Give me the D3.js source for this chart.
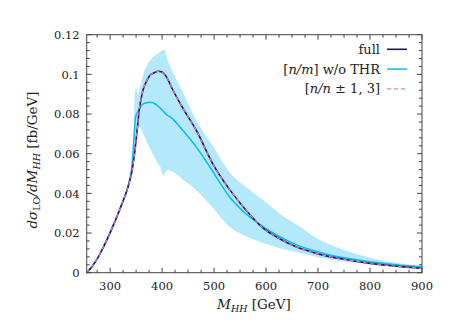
<!DOCTYPE html>
<html>
<head>
<meta charset="utf-8">
<script src="https://cdn.jsdelivr.net/npm/d3@7"></script>
<style>
  body { margin: 0; background: #fff; }
</style>
</head>
<body>
<div id="chart"></div>
<script>
// M_HH grid [GeV] and dsigma_LO/dM_HH [fb/GeV]
const massFull = [255, 265, 275, 285, 295, 305, 315, 325, 332, 338, 342, 345, 348, 352, 356, 363, 370, 376, 385, 392, 400, 410, 420, 440, 466, 500, 530, 560, 595, 620, 660, 700, 750, 800, 850, 900];
const fullValues = [0, 0.003, 0.0068, 0.0118, 0.0172, 0.0232, 0.0295, 0.0362, 0.0412, 0.0465, 0.051, 0.056, 0.062, 0.0717, 0.0818, 0.0918, 0.0965, 0.0993, 0.1008, 0.1016, 0.1012, 0.098, 0.0925, 0.083, 0.0717, 0.0537, 0.0419, 0.032, 0.0223, 0.018, 0.0128, 0.0095, 0.0068, 0.0047, 0.0033, 0.0022];
// [n/n±1,3] lies on top of the full result
const padeValues = [0, 0.003, 0.0068, 0.0118, 0.0172, 0.0232, 0.0295, 0.0362, 0.0412, 0.0465, 0.051, 0.056, 0.062, 0.0717, 0.0818, 0.0918, 0.0965, 0.0993, 0.1008, 0.1016, 0.1012, 0.098, 0.0925, 0.083, 0.0717, 0.0537, 0.0419, 0.032, 0.0223, 0.018, 0.0128, 0.0095, 0.0068, 0.0047, 0.0033, 0.0022];

const massNoThr = [255, 265, 275, 285, 295, 305, 315, 325, 332, 338, 342, 345, 349, 354, 360, 368, 378, 390, 401, 409, 416, 425, 440, 466, 492, 530, 560, 595, 620, 660, 700, 750, 800, 850, 900];
const noThrValues = [0, 0.003, 0.0068, 0.0118, 0.0172, 0.0232, 0.0295, 0.0362, 0.0412, 0.0475, 0.054, 0.064, 0.0784, 0.0815, 0.0843, 0.0856, 0.0859, 0.0845, 0.0818, 0.0795, 0.0785, 0.0763, 0.0717, 0.0633, 0.0533, 0.0382, 0.030, 0.0231, 0.019, 0.0139, 0.0105, 0.0075, 0.0055, 0.004, 0.003];

const massBand = [255, 265, 275, 285, 295, 305, 315, 325, 332, 338, 342, 345, 347, 350, 354, 357, 365, 372, 380, 390, 397, 402, 405, 410, 420, 440, 466, 500, 530, 560, 595, 625, 660, 700, 750, 800, 850, 900];
const bandLow = [0, 0.003, 0.0068, 0.0118, 0.0172, 0.0232, 0.0295, 0.0362, 0.0412, 0.0465, 0.051, 0.056, 0.060, 0.066, 0.0725, 0.0734, 0.069, 0.065, 0.061, 0.056, 0.053, 0.049, 0.050, 0.0516, 0.051, 0.047, 0.0416, 0.032, 0.023, 0.0185, 0.015, 0.0125, 0.0103, 0.0078, 0.0057, 0.0042, 0.003, 0.0022];
const bandHigh = [0, 0.003, 0.0068, 0.0118, 0.0172, 0.0232, 0.0295, 0.0362, 0.0412, 0.0475, 0.054, 0.064, 0.088, 0.093, 0.0895, 0.093, 0.101, 0.105, 0.108, 0.110, 0.1115, 0.1122, 0.1124, 0.1077, 0.1015, 0.091, 0.0767, 0.063, 0.0505, 0.0435, 0.0365, 0.030, 0.024, 0.017, 0.0115, 0.0075, 0.005, 0.0034];

const xTicks = [300, 400, 500, 600, 700, 800, 900];
const yTicks = [0, 0.02, 0.04, 0.06, 0.08, 0.1, 0.12];
const legendLabels = ['full', '[n/m] w/o THR', '[n/n ± 1, 3]'];

const serif = '"DejaVu Serif", "Liberation Serif", "Times New Roman", serif';
const width = 465, height = 332;
const margin = { top: 34.7, right: 43, bottom: 59.3, left: 86.7 };

const svg = d3.select('#chart').append('svg')
  .attr('width', width)
  .attr('height', height)
  .style('font-family', serif);

const x = d3.scaleLinear().domain([255, 900]).range([margin.left, width - margin.right]);
const y = d3.scaleLinear().domain([0, 0.12]).range([height - margin.bottom, margin.top]);

const zip = (xs, ys) => xs.map((m, i) => [m, ys[i]]);

// uncertainty band
const area = d3.area()
  .x(d => x(d[0]))
  .y0(d => y(d[1]))
  .y1(d => y(d[2]))
  .curve(d3.curveMonotoneX);
svg.append('path')
  .datum(massBand.map((m, i) => [m, bandLow[i], bandHigh[i]]))
  .attr('d', area)
  .attr('fill', '#b3e9fb');

const line = d3.line()
  .x(d => x(d[0]))
  .y(d => y(d[1]))
  .curve(d3.curveMonotoneX);

svg.append('path')
  .datum(zip(massNoThr, noThrValues))
  .attr('d', line)
  .attr('fill', 'none')
  .attr('stroke', '#0abaf5')
  .attr('stroke-width', 1.5);

svg.append('path')
  .datum(zip(massFull, fullValues))
  .attr('d', line)
  .attr('fill', 'none')
  .attr('stroke', '#1c1660')
  .attr('stroke-width', 1.6);

svg.append('path')
  .datum(zip(massFull, padeValues))
  .attr('d', line)
  .attr('fill', 'none')
  .attr('stroke', '#f07ac0')
  .attr('stroke-width', 1.1)
  .attr('stroke-dasharray', '4,3');

// frame with inward ticks on all four sides
const frame = svg.append('g').attr('stroke', '#444').attr('stroke-width', 1);
const x0 = x.range()[0], x1 = x.range()[1], y0 = y.range()[0], y1 = y.range()[1];

const xMinor = d3.range(275, 900, 25).filter(v => !xTicks.includes(v));
const yMinor = d3.range(0.004, 0.12, 0.004).filter(v => !yTicks.some(t => Math.abs(t - v) < 1e-6));

xMinor.forEach(v => {
  frame.append('line').attr('x1', x(v)).attr('x2', x(v)).attr('y1', y0).attr('y2', y0 - 3);
  frame.append('line').attr('x1', x(v)).attr('x2', x(v)).attr('y1', y1).attr('y2', y1 + 3);
});
xTicks.forEach(v => {
  frame.append('line').attr('x1', x(v)).attr('x2', x(v)).attr('y1', y0).attr('y2', y0 - 5);
  frame.append('line').attr('x1', x(v)).attr('x2', x(v)).attr('y1', y1).attr('y2', y1 + 5);
});
yMinor.forEach(v => {
  frame.append('line').attr('x1', x0).attr('x2', x0 + 3).attr('y1', y(v)).attr('y2', y(v));
  frame.append('line').attr('x1', x1).attr('x2', x1 - 3).attr('y1', y(v)).attr('y2', y(v));
});
yTicks.forEach(v => {
  frame.append('line').attr('x1', x0).attr('x2', x0 + 5).attr('y1', y(v)).attr('y2', y(v));
  frame.append('line').attr('x1', x1).attr('x2', x1 - 5).attr('y1', y(v)).attr('y2', y(v));
});
frame.append('rect')
  .attr('x', x0).attr('y', y1)
  .attr('width', x1 - x0).attr('height', y0 - y1)
  .attr('fill', 'none');

// tick labels
svg.append('g').selectAll('text')
  .data(xTicks)
  .join('text')
  .attr('x', d => x(d))
  .attr('y', y0 + 17)
  .attr('text-anchor', 'middle')
  .attr('font-size', 11.5)
  .attr('fill', '#222')
  .text(d => d);

svg.append('g').selectAll('text')
  .data(yTicks)
  .join('text')
  .attr('x', x0 - 7)
  .attr('y', d => y(d) + 4.3)
  .attr('text-anchor', 'end')
  .attr('font-size', 11.5)
  .attr('fill', '#222')
  .text(d => d === 0 ? '0' : String(+d.toFixed(2)));

// axis titles
const xTitle = svg.append('text')
  .attr('x', 254)
  .attr('y', 309)
  .attr('text-anchor', 'middle')
  .attr('font-size', 13.5)
  .attr('fill', '#222');
xTitle.append('tspan').attr('font-style', 'italic').text('M');
xTitle.append('tspan').attr('font-style', 'italic').attr('font-size', 9.5).attr('dy', 3).text('HH');
xTitle.append('tspan').attr('dy', -3).text(' [GeV]');

const yTitle = svg.append('text')
  .attr('transform', 'translate(37,160) rotate(-90)')
  .attr('text-anchor', 'middle')
  .attr('font-size', 13.5)
  .attr('fill', '#222');
yTitle.append('tspan').attr('font-style', 'italic').text('dσ');
yTitle.append('tspan').attr('font-size', 9.5).attr('dy', 3).text('LO');
yTitle.append('tspan').attr('font-style', 'italic').attr('dy', -3).text('/dM');
yTitle.append('tspan').attr('font-style', 'italic').attr('font-size', 9.5).attr('dy', 3).text('HH');
yTitle.append('tspan').attr('dy', -3).text(' [fb/GeV]');

// legend
const legendStyles = [
  { stroke: '#1c1660', dash: null, w: 1.6 },
  { stroke: '#0abaf5', dash: null, w: 1.5 },
  { stroke: '#f07ac0', dash: '4,3', w: 1.3 }
];
const legend = svg.append('g');
legendLabels.forEach((label, i) => {
  const ly = 49.3 + i * 19.8;
  const t = legend.append('text')
    .attr('x', 380)
    .attr('y', ly + 4.5)
    .attr('text-anchor', 'end')
    .attr('font-size', 13)
    .attr('fill', '#222');
  if (i === 0) {
    t.text(label);
  } else if (i === 1) {
    t.append('tspan').text('[');
    t.append('tspan').attr('font-style', 'italic').text('n/m');
    t.append('tspan').text('] w/o THR');
  } else {
    t.append('tspan').text('[');
    t.append('tspan').attr('font-style', 'italic').text('n/n');
    t.append('tspan').text(' ± 1, 3]');
  }
  legend.append('line')
    .attr('x1', 387).attr('x2', 407)
    .attr('y1', ly).attr('y2', ly)
    .attr('stroke', legendStyles[i].stroke)
    .attr('stroke-width', legendStyles[i].w)
    .attr('stroke-dasharray', legendStyles[i].dash);
});
</script>
</body>
</html>
